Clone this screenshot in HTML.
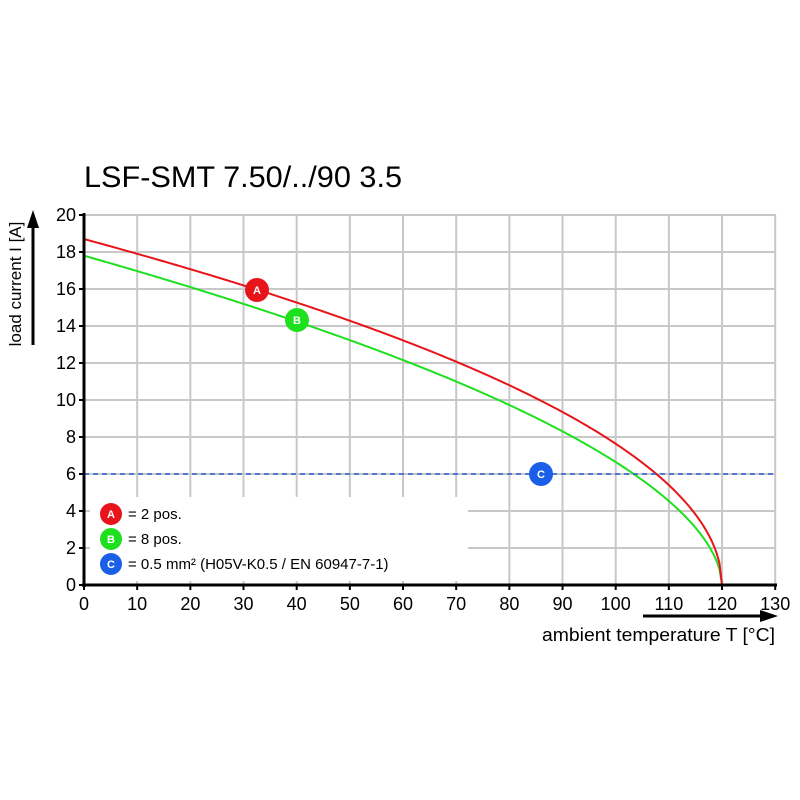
<!DOCTYPE html>
<html><head><meta charset="utf-8"><style>
html,body{margin:0;padding:0;background:#fff;}
svg{display:block;font-family:"Liberation Sans",Arial,sans-serif;}
</style></head><body>
<svg id="s" width="800" height="800" viewBox="0 0 800 800">
<rect width="800" height="800" fill="#fff"/>
<text x="84" y="187" font-size="30" fill="#000" textLength="318" lengthAdjust="spacingAndGlyphs">LSF-SMT 7.50/../90 3.5</text>
<g id="grid" stroke="#c8c8c8" stroke-width="2"></g>
<rect x="90" y="497" width="378" height="84" fill="#fff"/>
<g id="curves" fill="none" stroke-width="2"></g>
<line x1="84" y1="474" x2="776" y2="474" stroke="#2a5fd6" stroke-width="1.6" stroke-dasharray="5,4"/>
<g id="axes" stroke="#000"></g>
<g id="labels" font-size="18" fill="#000"></g>
<text transform="translate(21,284) rotate(-90)" text-anchor="middle" font-size="17">load current I [A]</text>
<line x1="33" y1="345" x2="33" y2="225" stroke="#000" stroke-width="3"/>
<polygon points="33,210 27,228 39,228" fill="#000"/>
<text x="542" y="641" font-size="18" textLength="233" lengthAdjust="spacingAndGlyphs">ambient temperature T [°C]</text>
<line x1="643" y1="616" x2="762" y2="616" stroke="#000" stroke-width="3"/>
<polygon points="778,616 760,610 760,622" fill="#000"/>
<g font-size="11" font-weight="bold" fill="#fff" text-anchor="middle">
<circle cx="257" cy="290" r="12" fill="#e8141b"/><text x="257" y="294">A</text>
<circle cx="297" cy="320" r="12" fill="#1fe01f"/><text x="297" y="324">B</text>
<circle cx="541" cy="474" r="12" fill="#1b5fe8"/><text x="541" y="478">C</text>
<circle cx="111" cy="514" r="11" fill="#e8141b"/><text x="111" y="518">A</text>
<circle cx="111" cy="539" r="11" fill="#1fe01f"/><text x="111" y="543">B</text>
<circle cx="111" cy="564" r="11" fill="#1b5fe8"/><text x="111" y="568">C</text>
</g>
<g font-size="15" fill="#000">
<text x="128" y="519">= 2 pos.</text>
<text x="128" y="544">= 8 pos.</text>
<text x="128" y="569">= 0.5 mm² (H05V-K0.5 / EN 60947-7-1)</text>
</g>
</svg>
<script>
var X0=84,SX=5.317,Y0=585,SY=18.5,ns="http://www.w3.org/2000/svg";
function el(p,t,a){var e=document.createElementNS(ns,t);for(var k in a)e.setAttribute(k,a[k]);document.getElementById(p).appendChild(e);return e;}
for(var i=1;i<=13;i++){var x=X0+i*10*SX;el("grid","line",{x1:x,y1:215,x2:x,y2:585});}
for(var j=1;j<=10;j++){var y=Y0-j*2*SY;el("grid","line",{x1:84,y1:y,x2:776,y2:y});}
function curve(a,p,c){var d="";for(var t=0;t<=120;t+=0.5){var I=a*Math.pow(Math.max(0,1-t/120),p);d+=(t?"L":"M")+(X0+t*SX).toFixed(2)+","+(Y0-I*SY).toFixed(2);}el("curves","path",{d:d,stroke:c});}
curve(17.8,0.55,"#1fe01f");curve(18.7,0.5,"#e8141b");
el("axes","line",{x1:84,y1:213,x2:84,y2:587,"stroke-width":3});
el("axes","line",{x1:82,y1:585,x2:777,y2:585,"stroke-width":3});
for(var i=0;i<=13;i++){var x=X0+i*10*SX;el("axes","line",{x1:x,y1:585,x2:x,y2:590,"stroke-width":2});var t=el("labels","text",{x:x,y:610,"text-anchor":"middle"});t.textContent=i*10;}
for(var j=0;j<=10;j++){var y=Y0-j*2*SY;el("axes","line",{x1:79,y1:y,x2:84,y2:y,"stroke-width":2});var t=el("labels","text",{x:76,y:y+6,"text-anchor":"end"});t.textContent=j*2;}
</script>
</body></html>
